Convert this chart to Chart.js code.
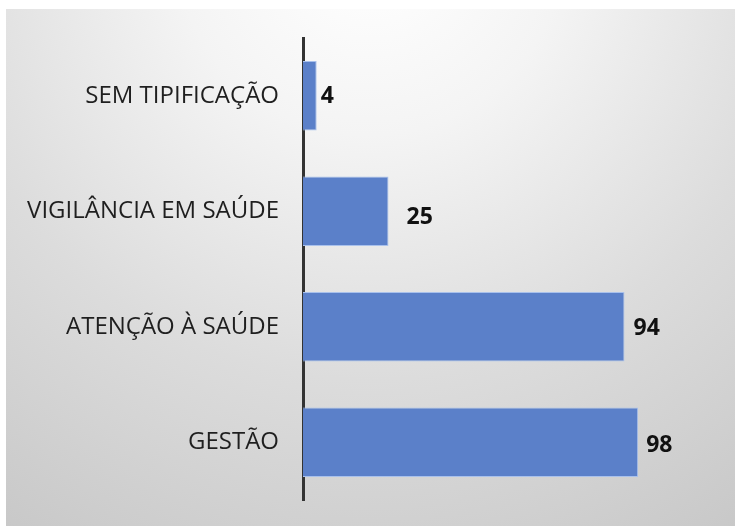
<!DOCTYPE html>
<html>
<head>
<meta charset="utf-8">
<script src="https://cdn.jsdelivr.net/npm/chart.js@4"></script>
<style>
  html, body { margin: 0; padding: 0; background: #ffffff; }
  #wrap { position: relative; width: 735px; height: 526px; }
</style>
</head>
<body>
<div id="wrap"><canvas id="c" width="735" height="526"></canvas></div>
<script>
const categories = ['SEM TIPIFICAÇÃO', 'VIGILÂNCIA EM SAÚDE', 'ATENÇÃO À SAÚDE', 'GESTÃO'];
const values = [4, 25, 94, 98];

// label placement (style only): horizontal gap after bar end, vertical shift
const labelGap = [4, 18, 9, 8];
const labelShift = [1, 6, 2, 3];

const bgPlugin = {
  id: 'bg',
  beforeDraw(chart) {
    const ctx = chart.ctx;
    ctx.save();
    ctx.fillStyle = '#ffffff';
    ctx.fillRect(0, 0, chart.width, chart.height);
    const g = ctx.createRadialGradient(370, -60, 20, 370, -60, 720);
    g.addColorStop(0, '#ffffff');
    g.addColorStop(0.25, '#f4f4f4');
    g.addColorStop(0.6, '#dcdcdc');
    g.addColorStop(1, '#c6c6c6');
    ctx.fillStyle = g;
    ctx.fillRect(6, 9, chart.width - 6, chart.height - 9);
    ctx.restore();
  }
};

const valueLabels = {
  id: 'valueLabels',
  afterDatasetsDraw(chart) {
    const ctx = chart.ctx;
    const meta = chart.getDatasetMeta(0);
    ctx.save();
    ctx.font = 'bold 23px "Open Sans"';
    ctx.fillStyle = '#111111';
    ctx.textAlign = 'left';
    ctx.textBaseline = 'middle';
    meta.data.forEach((bar, i) => {
      ctx.fillText(String(values[i]), bar.x + labelGap[i], bar.y + labelShift[i]);
    });
    ctx.restore();
  }
};

new Chart(document.getElementById('c'), {
  type: 'bar',
  data: {
    labels: categories,
    datasets: [{
      data: values,
      backgroundColor: '#5b80c9',
      borderColor: '#a9c1ec',
      borderWidth: 1,
      borderSkipped: 'start',
      barPercentage: 0.6,
      categoryPercentage: 1.0
    }]
  },
  options: {
    indexAxis: 'y',
    responsive: false,
    animation: false,
    layout: { padding: { left: 0, right: 90, top: 38, bottom: 26 } },
    plugins: { legend: { display: false }, tooltip: { enabled: false } },
    scales: {
      x: {
        display: false,
        min: 0,
        max: 100
      },
      y: {
        afterFit(scale) { scale.width = 303; scale.paddingTop = 0; scale.paddingBottom = 0; },
        grid: { display: false, drawTicks: false },
        border: { display: true, color: '#333333', width: 3 },
        ticks: {
          padding: 24,
          color: '#1f1f1f',
          font: { family: 'Open Sans', size: 24 }
        }
      }
    }
  },
  plugins: [bgPlugin, valueLabels]
});
</script>
</body>
</html>
